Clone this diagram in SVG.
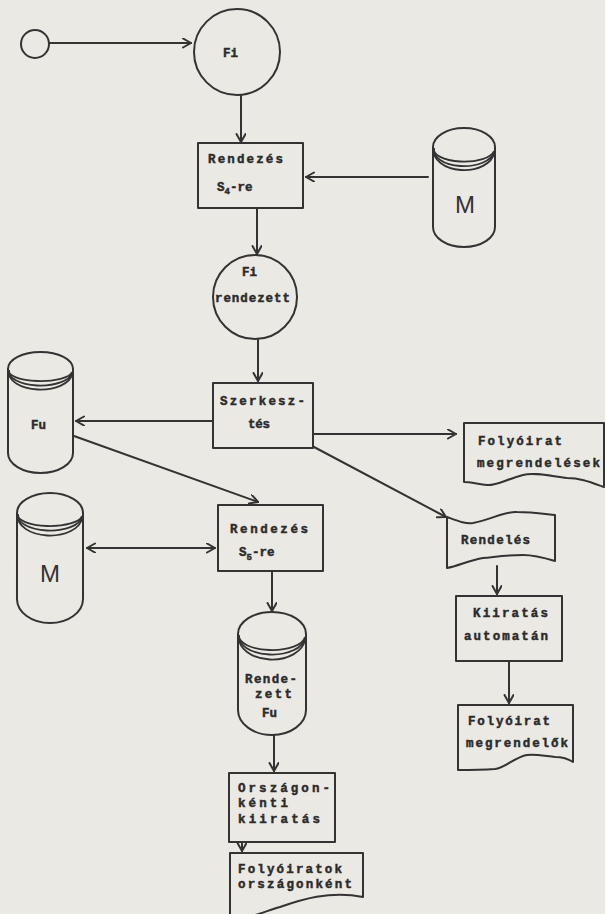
<svg xmlns="http://www.w3.org/2000/svg" width="605" height="914" viewBox="0 0 605 914">
<defs>
<style>
.s{fill:none;stroke:#333;stroke-width:2;stroke-linecap:round;stroke-linejoin:round}
.n{fill:#ebe9e4;stroke:#333;stroke-width:2;stroke-linejoin:round}
.c{fill:none;stroke:#333;stroke-width:1.8}
.t{font-family:"Liberation Mono","DejaVu Sans Mono",monospace;font-weight:bold;font-size:12.5px;fill:#2b2b2b;stroke:#2b2b2b;stroke-width:0.45}
.sub{font-size:9px}
.m{font-family:"Liberation Sans","DejaVu Sans",sans-serif;font-size:24px;fill:#333}
</style>
<marker id="ah" markerUnits="userSpaceOnUse" markerWidth="12" markerHeight="12" refX="9" refY="5" orient="auto-start-reverse">
<path d="M1,0.5 L9,5 L1,9.5" fill="none" stroke="#333" stroke-width="2" stroke-linecap="round" stroke-linejoin="round"/>
</marker>
</defs>
<rect width="605" height="914" fill="#ebe9e4"/>

<g id="connectors" class="s">
<line x1="49" y1="43" x2="191" y2="43" marker-end="url(#ah)"/>
<line x1="241" y1="95" x2="241" y2="142" marker-end="url(#ah)"/>
<line x1="428" y1="177" x2="306" y2="177" marker-end="url(#ah)"/>
<line x1="257" y1="208" x2="257" y2="254" marker-end="url(#ah)"/>
<line x1="258" y1="339" x2="258" y2="381" marker-end="url(#ah)"/>
<line x1="213" y1="421" x2="76" y2="421" marker-end="url(#ah)"/>
<line x1="314" y1="434" x2="456" y2="434" marker-end="url(#ah)"/>
<line x1="314" y1="447" x2="446" y2="517" marker-end="url(#ah)"/>
<line x1="74" y1="436" x2="258" y2="502" marker-end="url(#ah)"/>
<line x1="87" y1="548" x2="215" y2="548" marker-start="url(#ah)" marker-end="url(#ah)"/>
<line x1="272" y1="571" x2="272" y2="611" marker-end="url(#ah)"/>
<line x1="497" y1="566" x2="497" y2="594" marker-end="url(#ah)"/>
<line x1="509" y1="661" x2="509" y2="703" marker-end="url(#ah)"/>
<line x1="274" y1="735" x2="274" y2="771" marker-end="url(#ah)"/>
<line x1="242" y1="842" x2="242" y2="851" marker-end="url(#ah)"/>
</g>

<g id="start">
<circle class="n" cx="35" cy="44" r="14"/>
</g>

<g id="fi">
<circle class="n" cx="237" cy="52" r="43"/>
<text class="t" x="223" y="57">Fi</text>
</g>

<g id="rendezes-s4">
<rect class="n" x="198" y="143" width="105" height="65"/>
<text class="t" x="208" y="163" textLength="75">Rendezés</text>
<text class="t" x="217" y="191">S<tspan class="sub" dy="3">4</tspan><tspan dy="-3">-re</tspan></text>
</g>

<g id="m-right">
<path class="n" d="M433,147 A31,19 0 0 1 495,147 L495,227 A31,20 0 0 1 433,227 Z"/>
<path class="c" d="M434,148 A30,12 0 0 0 494,151"/>
<path class="c" d="M434,148 A30,16 0 0 0 494,152"/>
<path class="c" d="M434,149 A30,19 0 0 0 494,153"/>
<text class="m" x="455" y="213">M</text>
</g>

<g id="fi-rendezett">
<circle class="n" cx="255" cy="297" r="42"/>
<text class="t" x="242" y="276">Fi</text>
<text class="t" x="215" y="302" textLength="75">rendezett</text>
</g>

<g id="szerkesztes">
<rect class="n" x="213" y="383" width="100" height="65"/>
<text class="t" x="220" y="405" textLength="85">Szerkesz-</text>
<text class="t" x="248" y="428" textLength="22">tés</text>
</g>

<g id="fu">
<path class="n" d="M8,369 A32.5,17 0 0 1 73,369 L73,453 A32.5,20 0 0 1 8,453 Z"/>
<path class="c" d="M9,370 A31.5,10 0 0 0 72,372"/>
<path class="c" d="M9,370 A31.5,14 0 0 0 72,373"/>
<path class="c" d="M9,371 A31.5,17 0 0 0 72,374"/>
<text class="t" x="31" y="429">Fu</text>
</g>

<g id="folyoirat-megrendelesek">
<path class="n" d="M464,423 L604,423 L604,487 C590,482 580,478 567,478 C550,476 535,472 523,475 C505,480 495,486 487,485 C478,484 470,482 464,482 Z"/>
<text class="t" x="478" y="445" textLength="84">Folyóirat</text>
<text class="t" x="477" y="467" textLength="123">megrendelések</text>
</g>

<g id="m-left">
<path class="n" d="M17,513 A33,20 0 0 1 83,513 L83,599 A33,24 0 0 1 17,599 Z"/>
<path class="c" d="M18,514 A32,11 0 0 0 82,516"/>
<path class="c" d="M18,514 A32,15 0 0 0 82,517"/>
<path class="c" d="M18,515 A32,19 0 0 0 82,518"/>
<text class="m" x="40" y="582">M</text>
</g>

<g id="rendezes-s5">
<rect class="n" x="218" y="505" width="105" height="66"/>
<text class="t" x="230" y="533" textLength="78">Rendezés</text>
<text class="t" x="239" y="556">S<tspan class="sub" dy="4">5</tspan><tspan dy="-4">-re</tspan></text>
</g>

<g id="rendeles">
<path class="n" d="M447,517 C458,521 465,524 473,523 C490,520 505,511 517,512 C532,512 545,514 555,515 L555,561 C545,558 535,555 523,555 C505,555 495,557 483,558 C470,560 458,566 447,568 Z"/>
<text class="t" x="461" y="544" textLength="69">Rendelés</text>
</g>

<g id="kiiratas-automatan">
<rect class="n" x="456" y="596" width="106" height="65"/>
<text class="t" x="473" y="617" textLength="75">Kiiratás</text>
<text class="t" x="464" y="640" textLength="84">automatán</text>
</g>

<g id="folyoirat-megrendelok">
<path class="n" d="M458,705 L573,705 L573,762 C567,758 562,757 555,757 C545,756 535,754 527,755 C515,757 505,768 495,769 C480,770 468,770 458,770 Z"/>
<text class="t" x="468" y="725" textLength="82">Folyóirat</text>
<text class="t" x="466" y="747" textLength="102">megrendelők</text>
</g>

<g id="rendezett-fu">
<path class="n" d="M238,634 A34,22 0 0 1 306,634 L306,710 A34,25 0 0 1 238,710 Z"/>
<path class="c" d="M239,635 A33,14 0 0 0 305,637"/>
<path class="c" d="M239,635 A33,18 0 0 0 305,638"/>
<path class="c" d="M239,636 A33,22 0 0 0 305,639"/>
<text class="t" x="245" y="683" textLength="52">Rende-</text>
<text class="t" x="255" y="698" textLength="37">zett</text>
<text class="t" x="262" y="717">Fu</text>
</g>

<g id="orszagonkenti-kiiratas">
<rect class="n" x="229" y="773" width="106" height="69"/>
<text class="t" x="238" y="792" textLength="92">Országon-</text>
<text class="t" x="238" y="807" textLength="50">kénti</text>
<text class="t" x="238" y="823" textLength="82">kiiratás</text>
</g>

<g id="folyoiratok-orszagonkent">
<path class="n" d="M230,915 L230,853 L363,853 L363,897 C330,890 300,900 280,907 C270,910 262,913 255,915 Z"/>
<text class="t" x="238" y="873" textLength="104">Folyóiratok</text>
<text class="t" x="238" y="888" textLength="114">országonként</text>
</g>
</svg>
